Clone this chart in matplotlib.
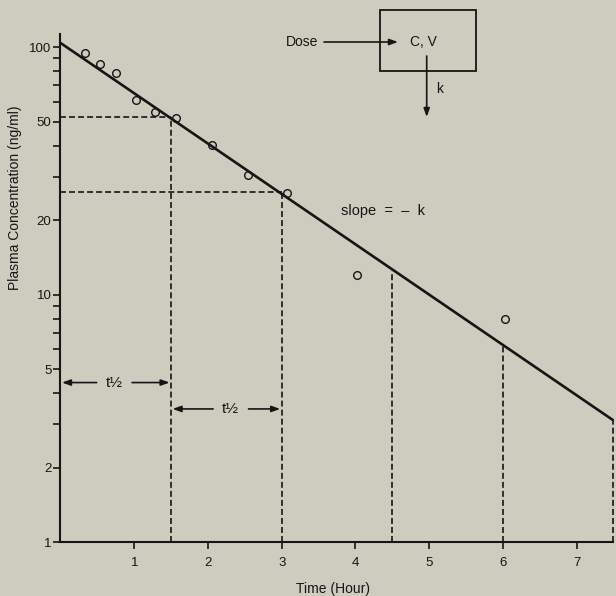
import numpy as np
import matplotlib
matplotlib.use("Agg")
import matplotlib.pyplot as plt
from matplotlib.patches import Rectangle
from matplotlib.ticker import FixedLocator, NullFormatter

plt.rcParams["font.family"] = ["Liberation Sans", "DejaVu Sans"]
plt.rcParams["lines.scale_dashes"] = False

# observed plasma concentrations
obs_time = [0.33, 0.54, 0.75, 1.03, 1.28, 1.56, 2.05, 2.54, 3.07, 4.02, 6.03]
obs_conc = [94.8, 85.8, 78.6, 61.3, 54.5, 51.7, 40.2, 30.3, 25.7, 12.0, 7.95]

# fitted elimination line
fit_time = [0.0, 7.5]
fit_conc = [104.0, 3.1]

# half-life markers (time, concentration on the line)
hl_time = [1.5, 3.0, 4.5, 6.0, 7.5]
hl_conc = [52.0, 26.0, 12.4, 6.2, 3.1]

y_major = [1, 2, 5, 10, 20, 50, 100]
y_minor = [3, 4, 6, 7, 8, 9, 30, 40, 60, 70, 80, 90]
x_ticks = [1, 2, 3, 4, 5, 6, 7]

bg = "#ceccbf"
ink = "#151515"

fig = plt.figure(figsize=(6.16, 5.96), dpi=100, facecolor=bg)
ax = fig.add_axes([0.0982, 0.0906, 0.8977, 0.8523], facecolor=bg)
ax.set_yscale("log")
ax.set_xlim(0, 7.5)
ax.set_ylim(1, 113)

dash = dict(color=ink, lw=1.2, linestyle=(0, (4.3, 2.2)), clip_on=False)

# dashed guides
for t, c in zip(hl_time, hl_conc):
    ax.plot([t, t], [1, c], **dash)
ax.plot([0, hl_time[0]], [hl_conc[0], hl_conc[0]], **dash)
ax.plot([0, hl_time[1]], [hl_conc[1], hl_conc[1]], **dash)

ax.plot(fit_time, fit_conc, color=ink, lw=1.9, solid_capstyle="butt", clip_on=False)
ax.plot(obs_time, obs_conc, "o", ms=5.5, mfc="none", mec=ink, mew=1.0)

# t1/2 arrows
arr = dict(arrowstyle="-|>,head_length=0.5,head_width=0.18", color=ink, lw=1.2,
           shrinkA=0, shrinkB=0)
for (x0, x1, y, xm) in [(0.0, 1.5, 4.41, 0.73), (1.5, 3.0, 3.45, 2.31)]:
    ax.annotate("", xy=(x0 + 0.02, y), xytext=(xm - 0.24, y), arrowprops=arr)
    ax.annotate("", xy=(x1 - 0.02, y), xytext=(xm + 0.24, y), arrowprops=arr)
    ax.text(xm, y, "t½", ha="center", va="center", fontsize=11, color=ink)

ax.text(4.37, 21.8, "slope  =  \u2013  k", ha="center", va="center",
        fontsize=10.5, color=ink)

# axes styling
for s in ["top", "right"]:
    ax.spines[s].set_visible(False)
for s in ["left", "bottom"]:
    ax.spines[s].set_linewidth(1.5)
    ax.spines[s].set_color(ink)

ax.yaxis.set_major_locator(FixedLocator(y_major))
ax.yaxis.set_minor_locator(FixedLocator(y_minor))
ax.yaxis.set_minor_formatter(NullFormatter())
ax.set_yticklabels([str(v) for v in y_major])
ax.set_xticks(x_ticks)
ax.set_xticklabels([str(v) for v in x_ticks])
ax.tick_params(axis="y", which="both", direction="out", length=5, width=1.2,
               pad=1.5, labelsize=9.5, colors=ink)
ax.tick_params(axis="x", direction="out", length=5, width=1.2, pad=6,
               labelsize=9.5, colors=ink)

fig.text(333 / 616, 1 - 589 / 596, "Time (Hour)", ha="center", va="center",
         fontsize=10, color=ink)
fig.text(15 / 616, 1 - 198 / 596, "Plasma Concentration (ng/ml)", ha="center",
         va="center", rotation=90, fontsize=10, color=ink)

# one-compartment diagram
def fx(px):
    return px / 616

def fy(py):
    return 1 - py / 596

fig.patches.append(Rectangle((fx(380), fy(71)), fx(475.7) - fx(380), fy(10) - fy(71),
                             transform=fig.transFigure, fill=False, ec=ink, lw=1.3))
fig.text(fx(302.5), fy(42), "Dose", ha="center", va="center", fontsize=10, color=ink)
fig.text(fx(423), fy(42), "C, V", ha="center", va="center", fontsize=10, color=ink)
fig.text(fx(439.5), fy(89), "k", ha="center", va="center", fontsize=10, color=ink)
darr = dict(arrowstyle="-|>,head_length=0.5,head_width=0.18", color=ink, lw=1.2,
            shrinkA=0, shrinkB=0)
ax.annotate("", xy=(fx(398), fy(42)), xytext=(fx(324), fy(42)),
            xycoords="figure fraction", textcoords="figure fraction", arrowprops=darr)
ax.annotate("", xy=(fx(426.7), fy(117)), xytext=(fx(426.7), fy(56)),
            xycoords="figure fraction", textcoords="figure fraction", arrowprops=darr)

fig.savefig("out.png", dpi=100, facecolor=bg)
